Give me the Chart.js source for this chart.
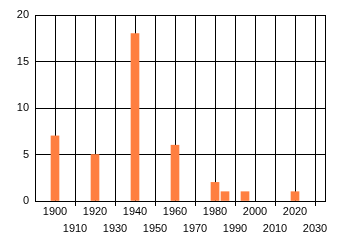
<!DOCTYPE html>
<html>
<head>
<meta charset="utf-8">
<script src="https://cdn.jsdelivr.net/npm/chart.js@4/dist/chart.umd.min.js"></script>
<style>
  html, body { margin: 0; padding: 0; background: #fff; }
  #wrap { width: 340px; height: 245px; }
</style>
</head>
<body>
<div id="wrap"><canvas id="chart"></canvas></div>
<script>
// data
const years = [1900, 1920, 1940, 1960, 1980, 1985, 1995, 2020];
const counts = [7, 5, 18, 6, 2, 1, 1, 1];
const xTicks = [1890, 1900, 1910, 1920, 1930, 1940, 1950, 1960, 1970, 1980, 1990, 2000, 2010, 2020, 2030, 2035];
const xMin = 1890, xMax = 2035;

const isOdd = v => v >= 1900 && v <= 2030 && ((v / 10) % 2 === 1);
const font = { family: 'Liberation Sans', size: 11, lineHeight: 1.55 };

new Chart(document.getElementById('chart'), {
    type: 'bar',
    data: {
        datasets: [{
            data: years.map((y, i) => ({ x: y, y: counts[i] })),
            backgroundColor: '#ff7f40',
            barThickness: 8
        }]
    },
    options: {
        responsive: true, maintainAspectRatio: false, animation: false,
        layout: { padding: { left: 0, top: 15, right: 15, bottom: 0 } },
        plugins: { legend: { display: false }, tooltip: { enabled: false } },
        scales: {
            x: {
                type: 'linear', min: xMin, max: xMax, offset: false,
                afterBuildTicks: s => { s.ticks = xTicks.map(v => ({ value: v })); },
                afterFit: s => { s.height = 44; },
                grid: {
                    offset: false, color: '#000', lineWidth: 1, tickLength: 5,
                    tickColor: c => (c.tick && isOdd(c.tick.value)) ? '#000' : 'rgba(0,0,0,0)'
                },
                border: { color: '#000' },
                ticks: {
                    autoSkip: false, maxRotation: 0, padding: -3, color: '#000', font,
                    callback: v => {
                        if (v < 1900 || v > 2030) return '';
                        return isOdd(v) ? ['', String(v)] : String(v);
                    }
                }
            },
            y: {
                min: 0, max: 20,
                afterFit: s => { s.width = 35; },
                grid: { color: '#000', lineWidth: 1, drawTicks: false },
                border: { color: '#000' },
                ticks: { stepSize: 5, padding: 6, color: '#000', font }
            }
        }
    }
});
</script>
</body>
</html>
